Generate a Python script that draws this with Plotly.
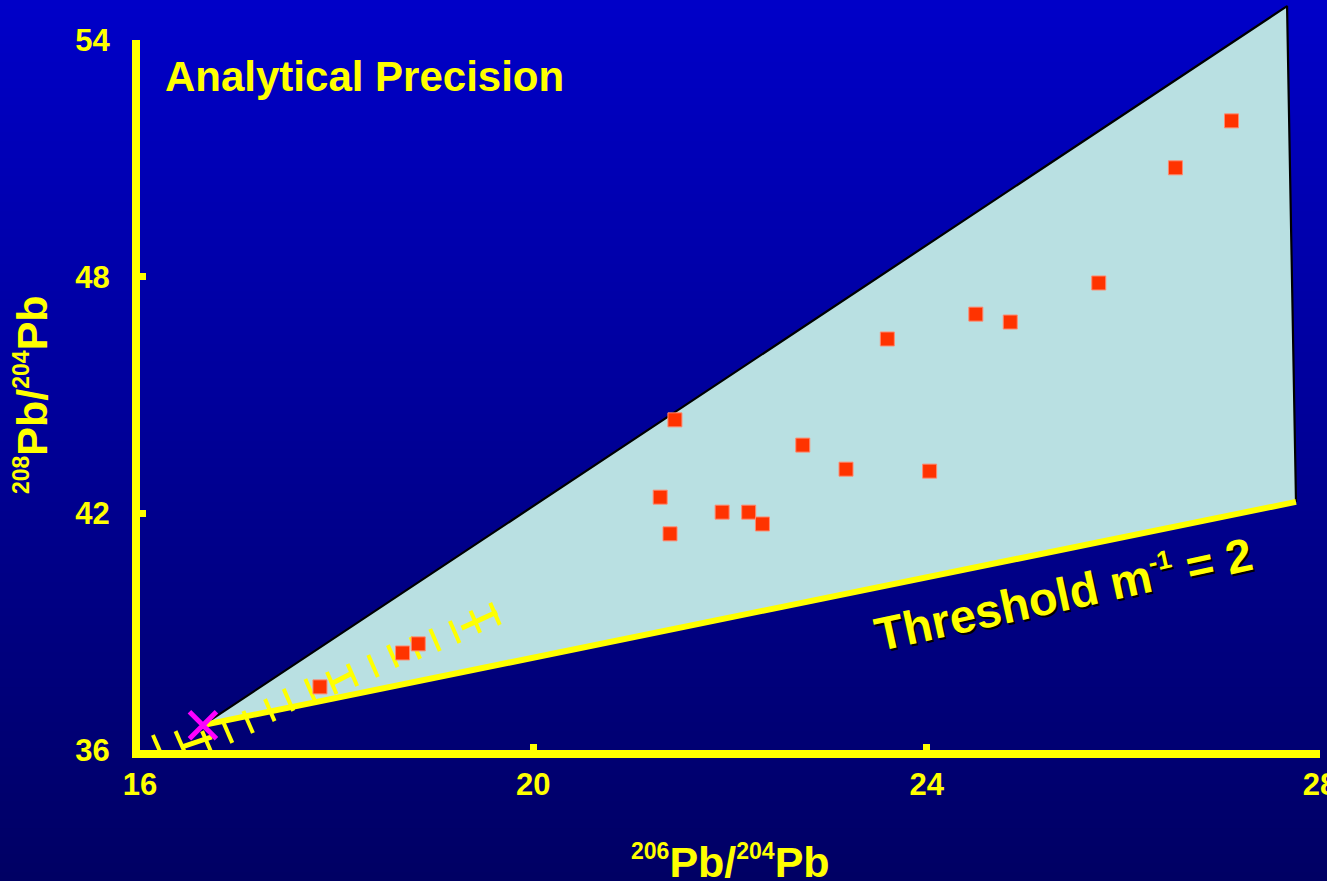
import plotly.graph_objects as go

# ---------------- data ----------------
x_ticks = [16, 20, 24, 28]
y_ticks = [36, 42, 48, 54]

# measured samples (206Pb/204Pb, 208Pb/204Pb)
sample_x = [17.83, 18.67, 18.83, 21.29, 21.39, 21.44, 21.92, 22.19, 22.33,
            22.74, 23.18, 23.60, 24.03, 24.50, 24.85, 25.75, 26.53, 27.10]
sample_y = [37.60, 38.46, 38.69, 42.41, 41.48, 44.37, 42.03, 42.03, 41.73,
            43.73, 43.12, 46.42, 43.07, 47.05, 46.85, 47.84, 50.76, 51.95]

# mixing field (apex = common end member, magenta cross)
field_x = [16.64, 27.665, 27.756]
field_y = [36.63, 54.86, 42.29]

# analytical precision markers along the trend
prec_x = [16.18, 16.41, 16.68, 16.89, 17.10, 17.32, 17.51, 17.73, 17.95,
          18.16, 18.37, 18.57, 18.80, 19.00, 19.20, 19.41, 19.61]
prec_y = [36.10, 36.20, 36.20, 36.46, 36.71, 37.01, 37.27, 37.52, 37.70,
          37.90, 38.13, 38.38, 38.59, 38.79, 38.99, 39.25, 39.45]
bar_x0 = [16.43, 17.96, 19.27]
bar_y0 = [36.08, 37.70, 39.09]
bar_x1 = [16.73, 18.16, 19.63]
bar_y1 = [36.33, 37.95, 39.50]

# ---------------- layout geometry ----------------
W, H = 1327, 881
ML, MR, MT, MB = 140, 7, 0, 131
PW, PH = W - ML - MR, H - MT - MB
XPPU = PW / (x_ticks[-1] - x_ticks[0])
YPPU = (PH - 40) / (y_ticks[-1] - y_ticks[0])
y2_top = y_ticks[0] + PH / YPPU

YEL = '#FFFF00'
FONT = 'Liberation Sans, Arial, sans-serif'

fig = go.Figure()

# gradient background strips
shapes = []
n = 100
paper_bottom = -MB / PH
total = 1 - paper_bottom
for i in range(n):
    t = i / (n - 1)
    b = int(round(200 - 100 * t))
    y1 = 1 - total * i / n + (0.01 if i == 0 else 0)
    y0 = 1 - total * (i + 1) / n - 0.002
    shapes.append(dict(type='rect', xref='paper', yref='paper',
                       x0=-0.2, x1=1.1, y0=y0, y1=y1,
                       fillcolor=f'rgb(0,0,{b})', line=dict(width=0),
                       layer='below'))

# invisible anchor trace so the visible y axis subplot exists
fig.add_trace(go.Scatter(x=[x_ticks[0]], y=[y_ticks[0]], mode='markers', yaxis='y',
                         marker=dict(opacity=0), hoverinfo='skip'))

# field polygon (on the taller hidden axis so the apex can pass 54)
fig.add_trace(go.Scatter(x=field_x + [field_x[0]], y=field_y + [field_y[0]],
                         mode='lines', fill='toself', fillcolor='#B9E0E2',
                         line=dict(width=0), yaxis='y2', hoverinfo='skip'))
fig.add_trace(go.Scatter(x=field_x, y=field_y, mode='lines',
                         line=dict(color='black', width=2.2), yaxis='y2',
                         hoverinfo='skip'))
fig.add_trace(go.Scatter(x=[field_x[0], field_x[2]], y=[field_y[0], field_y[2]],
                         mode='lines', line=dict(color=YEL, width=6),
                         yaxis='y2', hoverinfo='skip'))

# precision strokes (perpendicular to trend)
half = 12.0
ux, uy = 0.399, 0.917  # pixel direction (x right, y down)
sx, sy = [], []
for cx, cy in zip(prec_x, prec_y):
    dx = ux * half / XPPU
    dy = -uy * half / YPPU
    sx += [cx - dx, cx + dx, None]
    sy += [cy - dy, cy + dy, None]
fig.add_trace(go.Scatter(x=sx, y=sy, mode='lines', line=dict(color=YEL, width=4),
                         yaxis='y2', hoverinfo='skip'))
bx, by = [], []
for a, b_, c, d in zip(bar_x0, bar_y0, bar_x1, bar_y1):
    bx += [a, c, None]
    by += [b_, d, None]
fig.add_trace(go.Scatter(x=bx, y=by, mode='lines', line=dict(color=YEL, width=5),
                         yaxis='y2', hoverinfo='skip'))

# samples
fig.add_trace(go.Scatter(x=sample_x, y=sample_y, mode='markers', yaxis='y2',
                         marker=dict(symbol='square', size=14, color='#FF3300',
                                     line=dict(color='#FF8A70', width=1))))

# apex cross
fig.add_trace(go.Scatter(x=[field_x[0]], y=[field_y[0]], mode='markers', yaxis='y2',
                         marker=dict(symbol='x-thin', size=27, color='#FF00FF',
                                     line=dict(color='#FF00FF', width=5))))

axis_common = dict(showline=True, linecolor=YEL, linewidth=8, ticks='inside',
                   ticklen=6, tickwidth=7, tickcolor=YEL, showgrid=False,
                   zeroline=False, fixedrange=True, ticklabeloverflow='allow',
                   automargin=False,
                   tickfont=dict(family=FONT, size=31, color=YEL, weight='bold'))

fig.update_layout(
    width=W, height=H,
    margin=dict(l=ML, r=MR, t=MT, b=MB, autoexpand=False),
    paper_bgcolor='rgb(0,0,100)',
    plot_bgcolor='rgba(0,0,0,0)',
    showlegend=False,
    shapes=shapes,
    xaxis=dict(range=[x_ticks[0], x_ticks[-1]], tickvals=x_ticks,
               ticktext=[str(v) for v in x_ticks], anchor='y',
               ticklabelstandoff=0, **axis_common),
    yaxis=dict(range=[y_ticks[0], y_ticks[-1]], tickvals=y_ticks,
               ticktext=[str(v) for v in y_ticks], anchor='x',
               domain=[0, (PH - 40) / PH], ticklabelstandoff=16, **axis_common),
    yaxis2=dict(range=[y_ticks[0], y2_top], domain=[0, 1], anchor='x',
                visible=False, showgrid=False, zeroline=False, fixedrange=True,
                automargin=False),
)

SUP = '<sup><span style="font-size:23px">{}</span></sup>'
ann_font = dict(family=FONT, color=YEL, weight='bold')
fig.add_annotation(text='Analytical Precision', xref='paper', yref='paper',
                   x=(163 - ML) / PW, y=(PH - 76) / PH, xanchor='left',
                   yanchor='middle', showarrow=False, font=dict(size=42, **ann_font))
pb_title_x = SUP.format('206') + 'Pb/' + SUP.format('204') + 'Pb'
pb_title_y = SUP.format('208') + 'Pb/' + SUP.format('204') + 'Pb'
fig.add_annotation(text=pb_title_x, xref='paper', yref='paper',
                   x=(730 - ML) / PW, y=(PH - 862) / PH, xanchor='center',
                   yanchor='middle', showarrow=False, font=dict(size=43, **ann_font))
fig.add_annotation(text=pb_title_y, xref='paper', yref='paper',
                   x=(32 - ML) / PW, y=(PH - 395) / PH, xanchor='center',
                   yanchor='middle', textangle=-90, showarrow=False,
                   font=dict(size=43, **ann_font))
thr_text = 'Threshold m<sup><span style="font-size:26px">-1</span></sup> = 2'
for col, xs, ys in [('black', 2, -2), (YEL, 0, 0)]:
    fig.add_annotation(text=thr_text, xref='paper', yref='paper',
                       x=(1063 - ML) / PW, y=(PH - 594) / PH, xanchor='center',
                       yanchor='middle', textangle=-12.3, showarrow=False,
                       xshift=xs, yshift=ys,
                       font=dict(family=FONT, size=47, color=col, weight='bold'))

fig.write_html('out.html', config={'displayModeBar': False},
               post_script="document.body.style.margin='0';"
                           "document.documentElement.style.overflow='hidden';")
